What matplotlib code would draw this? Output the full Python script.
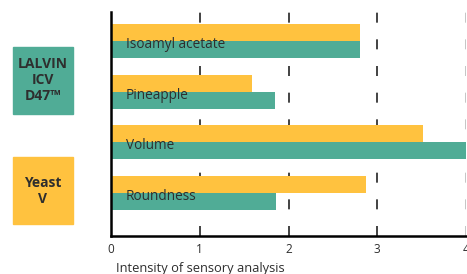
import matplotlib.pyplot as plt
from matplotlib.patches import Rectangle

plt.rcParams['font.family'] = ['Open Sans', 'DejaVu Sans']

categories = ["Isoamyl acetate", "Pineapple", "Volume", "Roundness"]
yeast_v = [2.81, 1.59, 3.52, 2.87]
lalvin = [2.80, 1.85, 4.05, 1.86]
ticks = [0, 1, 2, 3, 4]

yellow = "#FFC23F"
green = "#50AC96"
text_col = "#2e2e2e"

fig = plt.figure(figsize=(4.67, 2.74), dpi=100)
ax = fig.add_axes([111 / 467, 1 - 236 / 274, 355 / 467, 224 / 274])

h = 0.335
pos = list(range(len(categories)))
ax.barh([p - h / 2 for p in pos], yeast_v, height=h, color=yellow, zorder=2)
ax.barh([p + h / 2 for p in pos], lalvin, height=h, color=green, zorder=2)

for p, name in zip(pos, categories):
    ax.text(0.17, p + 0.07, name, va="center", ha="left", fontsize=9.8,
            color=text_col, zorder=3)

for t in ticks[1:]:
    ax.axvline(t, color="#222222" if t < 4 else "#bbbbbb", lw=1.2,
               dashes=(6, 10), zorder=1)

ax.set_xlim(0, 4)
ax.set_ylim(3.85, -0.57)
ax.set_xticks(ticks)
ax.set_yticks([])
ax.tick_params(axis="x", length=0, pad=5, labelsize=8.5, colors=text_col)
for s in ["top", "right"]:
    ax.spines[s].set_visible(False)
ax.spines["left"].set_linewidth(1.8)
ax.spines["bottom"].set_linewidth(1.8)
ax.set_xlabel("Intensity of sensory analysis", fontsize=9.3, color=text_col,
              loc="left", labelpad=1)
ax.xaxis.set_label_coords(0.015, -0.115, transform=ax.transAxes)

# legend boxes
fig.patches.append(Rectangle((13 / 467, 1 - 114 / 274), 60 / 467, 67 / 274,
                             transform=fig.transFigure, color=green))
fig.patches.append(Rectangle((13 / 467, 1 - 224 / 274), 60 / 467, 67 / 274,
                             transform=fig.transFigure, color=yellow))
fig.text(43 / 467, 1 - 80 / 274, "LALVIN\nICV\nD47\u2122", ha="center",
         va="center", fontsize=10, fontweight="bold", color=text_col,
         linespacing=1.15)
fig.text(43 / 467, 1 - 191 / 274, "Yeast\nV", ha="center", va="center",
         fontsize=10, fontweight="bold", color=text_col, linespacing=1.15)

fig.savefig("out.png", dpi=100)
